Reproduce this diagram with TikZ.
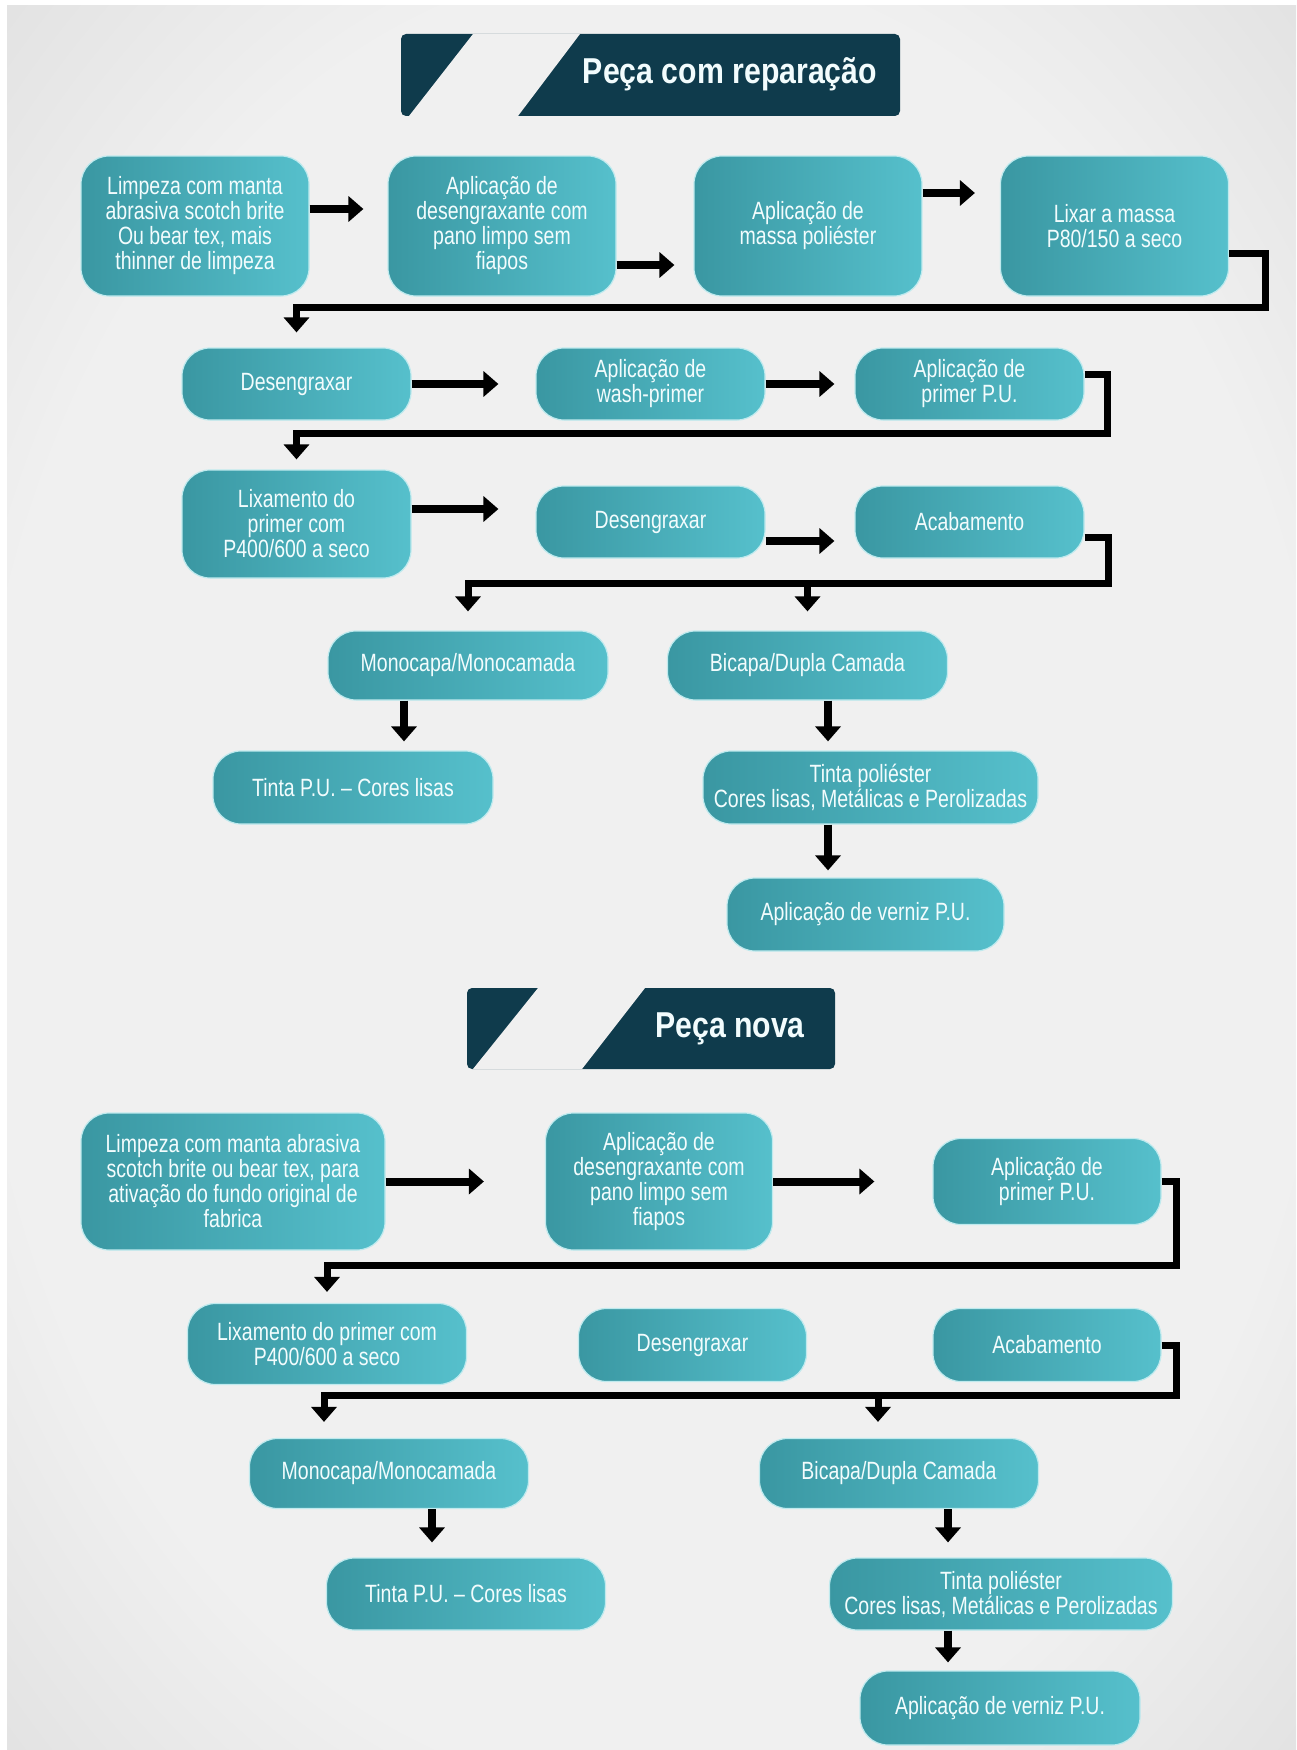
\documentclass[tikz,border=0pt]{standalone}
\usepackage{fontspec}
\usetikzlibrary{arrows.meta}
\newfontfamily\boxfont[FakeStretch=0.78]{Liberation Sans}
\newfontfamily\bannerfont[FakeStretch=0.84]{Liberation Sans}
\definecolor{tealL}{HTML}{3A97A2}
\definecolor{tealR}{HTML}{56C0CC}
\definecolor{tealE}{HTML}{BFEAEE}
\definecolor{navyA}{HTML}{0F3B4C}
\definecolor{paperA}{HTML}{F0F0F0}
\definecolor{paperB}{HTML}{CECECE}
\definecolor{paperC}{HTML}{B2B2B2}
\definecolor{stripeA}{HTML}{F0F0F0}
\definecolor{inkA}{HTML}{F2FCFD}
\pgfdeclareradialshading{paper}{\pgfpoint{0bp}{0bp}}{color(0bp)=(paperA); color(26bp)=(paperA); color(50bp)=(paperB); color(71bp)=(paperC)}

\begin{document}
\begin{tikzpicture}[
  x=1pt, y=-1pt,
  stepbox/.style={
    left color=tealL, right color=tealR,
    draw=tealE, line width=1.2pt,
    rounded corners=28pt, text=inkA,
    font=\boxfont\fontsize{25pt}{25pt}\selectfont,
    align=center, inner sep=0pt
  },
  bigbox/.style={stepbox, minimum width=228pt, minimum height=140pt},
  pill/.style={stepbox, minimum width=229pt, minimum height=72pt},
  widepill/.style={stepbox, minimum width=280pt, minimum height=72pt},
  banner/.style={fill=navyA, rounded corners=5pt, minimum height=82pt, inner sep=0pt},
  bannertxt/.style={text=inkA, inner sep=0pt,
    font=\bannerfont\bfseries\fontsize{36pt}{36pt}\selectfont},
  arr/.style={-{Triangle[width=25pt,length=15pt]}, line width=8pt, black},
  link/.style={arr, line width=7pt}
]
\useasboundingbox (0,0) rectangle (1296,1750);
\fill[white] (0,0) rectangle (1296,1750);
\shade[shading=paper] (7,6) rectangle (1296,1750);

%% ═══ PEÇA COM REPARAÇÃO ═══
\node[banner, minimum width=499pt] (ban1) at (650.5,75) {};
\begin{scope}
  \clip[rounded corners=5pt] (ban1.south west) rectangle (ban1.north east);
  \fill[stripeA] (473,34) -- (580,34) -- (518,116) -- (409,116) -- cycle;
\end{scope}
\node[bannertxt] (ban1txt) at (730,74) {Pe\c{c}a com repara\c{c}\~ao};

\node[bigbox] (limp1) at (195,226)
  {Limpeza com manta\\abrasiva scotch brite\\Ou bear tex, mais\\thinner de limpeza};
\node[bigbox] (desA) at (502,226)
  {Aplica\c{c}\~ao de\\desengraxante com\\pano limpo sem\\fiapos};
\node[bigbox] (massa) at (808,226) {Aplica\c{c}\~ao de\\massa poli\'ester};
\node[bigbox] (lixar) at (1114.5,226) {Lixar a massa\\P80/150 a seco};

\draw[arr] ([yshift=17pt]limp1.east) -- ([xshift=-24pt,yshift=17pt]desA.west);
\draw[arr] ([yshift=-39pt]desA.east) -- ([xshift=-19pt,yshift=-39pt]massa.west);
\draw[arr] ([yshift=33pt]massa.east) -- ([xshift=-25pt,yshift=33pt]lixar.west);

\node[pill] (desB) at (296.5,384) {Desengraxar};
\node[pill] (wash) at (650.5,384) {Aplica\c{c}\~ao de\\wash-primer};
\node[pill] (primA) at (969.5,384) {Aplica\c{c}\~ao de\\primer P.U.};
\draw[link] ([yshift=-27pt]lixar.east) -| (1265,307) -| ([yshift=15pt]desB.north);
\draw[arr] (desB.east) -- ([xshift=-37pt]wash.west);
\draw[arr] (wash.east) -- ([xshift=-20pt]primA.west);

\node[pill, minimum height=108pt] (lixA) at (296.5,524)
  {Lixamento do\\primer com\\P400/600 a seco};
\node[pill] (desC) at (650.5,522) {Desengraxar};
\node[pill] (acabA) at (969.5,522) {Acabamento};
\draw[link] ([yshift=10pt]primA.east) -| (1107,433) -| ([yshift=10pt]lixA.north);
\draw[arr] ([yshift=15pt]lixA.east) -- ([xshift=-37pt,yshift=13pt]desC.west);
\draw[arr] ([yshift=-19pt]desC.east) -- ([xshift=-20pt,yshift=-19pt]acabA.west);

\node[widepill, minimum height=69pt] (monoA) at (468,665.5) {Monocapa/Monocamada};
\node[widepill, minimum height=69pt] (biA) at (807.5,665.5) {Bicapa/Dupla Camada};
\coordinate (splitA) at (807.5,583);
\draw[link] ([yshift=-15pt]acabA.east) -| (1108,583) -| ([yshift=19pt]monoA.north);
\draw[link] (splitA) -- ([yshift=19pt]biA.north);

\node[widepill, minimum height=73pt] (tpuA) at (353,787.5) {Tinta P.U. \textendash{} Cores lisas};
\node[widepill, minimum width=335pt, minimum height=73pt] (tpolA) at (870.5,787.5)
  {Tinta poli\'ester\\Cores lisas, Met\'alicas e Perolizadas};
\node[widepill, minimum width=277pt, minimum height=73pt] (verA) at (865.5,914.5)
  {Aplica\c{c}\~ao de verniz P.U.};
\draw[arr] ([xshift=-64pt]monoA.south) -- ([xshift=51pt,yshift=9pt]tpuA.north);
\draw[arr] ([xshift=20.5pt]biA.south) -- ([xshift=-42.5pt,yshift=9pt]tpolA.north);
\draw[arr] ([xshift=-42.5pt]tpolA.south) -- ([xshift=-37.5pt,yshift=7pt]verA.north);

%% ═══ PEÇA NOVA ═══
\node[banner, minimum width=368pt, minimum height=81pt] (ban2) at (651,1028.5) {};
\begin{scope}
  \clip[rounded corners=5pt] (ban2.south west) rectangle (ban2.north east);
  \fill[stripeA] (538,988) -- (645,988) -- (582,1069) -- (473,1069) -- cycle;
\end{scope}
\node[bannertxt] (ban2txt) at (730,1029) {Pe\c{c}a nova};

\node[bigbox, minimum width=304pt, minimum height=137pt] (limpB) at (233,1181.5)
  {Limpeza com manta abrasiva\\scotch brite ou bear tex, para\\ativa\c{c}\~ao do fundo original de\\fabrica};
\node[bigbox, minimum width=227pt, minimum height=137pt] (desD) at (659,1181.5)
  {Aplica\c{c}\~ao de\\desengraxante com\\pano limpo sem\\fiapos};
\node[pill, minimum width=228pt, minimum height=86pt] (primB) at (1047,1181.5)
  {Aplica\c{c}\~ao de\\primer P.U.};
\draw[arr] (limpB.east) -- ([xshift=-61pt]desD.west);
\draw[arr] (desD.east) -- ([xshift=-58pt]primB.west);

\node[widepill, minimum width=279pt, minimum height=81pt] (lixB) at (327,1344)
  {Lixamento do primer com\\P400/600 a seco};
\node[pill, minimum width=228pt, minimum height=73pt] (desE) at (692.5,1345) {Desengraxar};
\node[pill, minimum width=228pt, minimum height=73pt] (acabB) at (1047,1345) {Acabamento};
\draw[link] (primB.east) -| (1176,1265) -| ([yshift=11pt]lixB.north);

\node[widepill, minimum width=279pt, minimum height=70pt] (monoB) at (389,1473.5) {Monocapa/Monocamada};
\node[widepill, minimum width=279pt, minimum height=70pt] (biB) at (899,1473.5) {Bicapa/Dupla Camada};
\coordinate (splitB) at (878,1395);
\draw[link] (acabB.east) -| (1176,1395) -| ([xshift=-65pt,yshift=16pt]monoB.north);
\draw[link] (splitB) -- ([xshift=-21pt,yshift=16pt]biB.north);

\node[widepill, minimum width=279pt] (tpuB) at (466,1594) {Tinta P.U. \textendash{} Cores lisas};
\node[widepill, minimum width=343pt] (tpolB) at (1001,1594)
  {Tinta poli\'ester\\Cores lisas, Met\'alicas e Perolizadas};
\node[widepill, minimum height=74pt] (verB) at (1000,1708) {Aplica\c{c}\~ao de verniz P.U.};
\draw[arr] ([xshift=43pt]monoB.south) -- ([xshift=-34pt,yshift=15pt]tpuB.north);
\draw[arr] ([xshift=49pt]biB.south) -- ([xshift=-53pt,yshift=15pt]tpolB.north);
\draw[arr] ([xshift=-53pt]tpolB.south) -- ([xshift=-52pt,yshift=8pt]verB.north);

\end{tikzpicture}
\end{document}
